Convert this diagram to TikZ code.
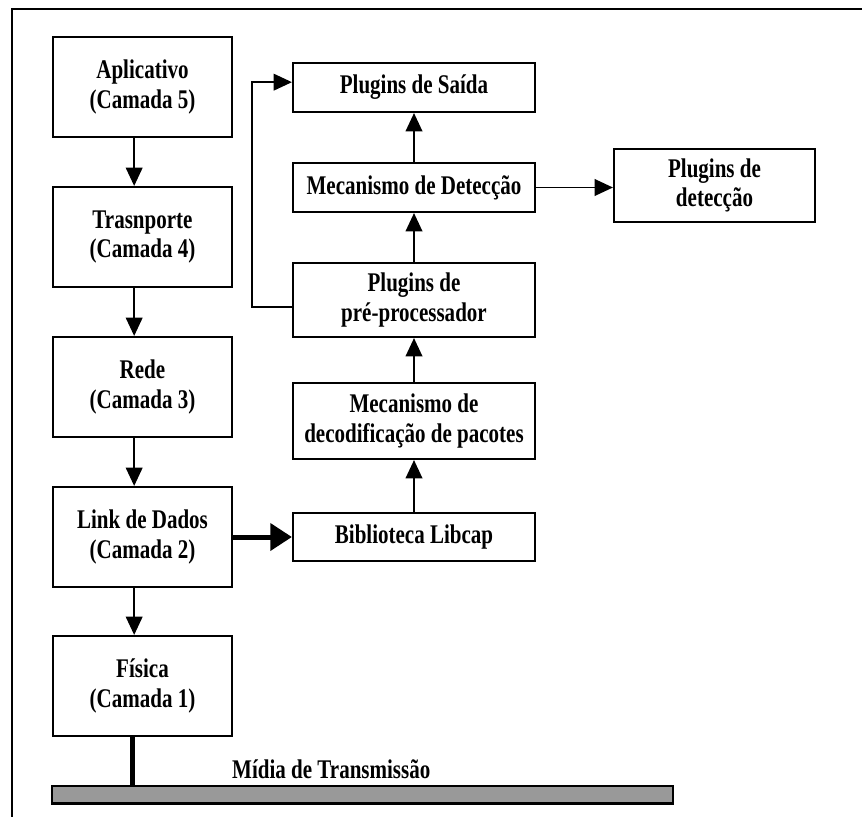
\documentclass[tikz,border=0pt]{standalone}
\usepackage{fontspec}
\setmainfont{Liberation Serif}[FakeStretch=0.78]
\usetikzlibrary{arrows.meta}

\tikzset{
    camada/.style={draw, line width=1.8pt, minimum width=53.7mm, minimum height=30mm,
        align=center, inner sep=0pt},
    modulo/.style={draw, line width=1.8pt, minimum width=72.6mm, align=center, inner sep=0pt},
    seta/.style={line width=1.5pt, -{Triangle[width=5mm,length=5.5mm]}},
    setagrossa/.style={line width=1.5mm, -{Triangle[width=8mm,length=6.5mm]}},
}

\begin{document}
\begin{tikzpicture}[x=0.3mm, y=-0.3mm, font=\bfseries\fontsize{23}{25}\selectfont]
    \useasboundingbox (0,0) rectangle (867,817);

    % Moldura
    \draw[line width=2.5pt] (12,817) -- (12,9) -- (862,9);

    % Camadas
    \node[camada] (apl)   at (142.5,87)  {Aplicativo\\(Camada 5)};
    \node[camada] (trans) at (142.5,237) {Trasnporte\\(Camada 4)};
    \node[camada] (rede)  at (142.5,387) {Rede\\(Camada 3)};
    \node[camada] (link)  at (142.5,537) {Link de Dados\\(Camada 2)};
    \node[camada] (fis)   at (142.5,686) {Física\\(Camada 1)};

    % Modulos
    \node[modulo, minimum height=14.7mm] (saida)  at (414,87.5) {Plugins de Saída};
    \node[modulo, minimum height=14.7mm] (detec)  at (414,187.5) {Mecanismo de Detecção};
    \node[modulo, minimum height=22.2mm] (prep)   at (414,300) {Plugins de\\pré-processador};
    \node[modulo, minimum height=22.8mm] (decod)  at (414,421) {Mecanismo de\\decodificação de pacotes};
    \node[modulo, minimum height=14.4mm] (libcap) at (414,537) {Biblioteca Libcap};
    \node[modulo, minimum width=60.3mm, minimum height=21.9mm] (pdet) at (714.5,185.5)
        {Plugins de\\detecção};

    % Meio fisico
    \node[draw, fill=black!40, line width=1pt, minimum width=186.3mm, minimum height=5.1mm,
        inner sep=0pt] (midia) at (362.5,794.5) {};
    \draw[line width=2pt] (midia.south west) -- (midia.south east);
    \node[anchor=base west, inner sep=0pt] (rotulo) at (232,778) {Mídia de Transmissão};

    % Conexoes
    \foreach \a/\b in {apl/trans, trans/rede, rede/link, link/fis}
        \draw[seta] ([xshift=-2.5mm]\a.south) -- ([xshift=-2.5mm]\b.north);
    \foreach \a/\b in {libcap/decod, decod/prep, prep/detec, detec/saida}
        \draw[seta] (\a.north) -- (\b.south);
    \draw[seta] (detec.east) -- (detec.east -| pdet.west);
    \draw[setagrossa] (link.east) -- (libcap.west);
    \draw[seta] ([yshift=-2.1mm]prep.west) -- ++(-40,0) |- ([yshift=1.6mm]saida.west);
    \draw[line width=1.6mm] ([xshift=-3.1mm]fis.south) -- ([xshift=-3.1mm]fis.south |- midia.north);
\end{tikzpicture}
\end{document}
